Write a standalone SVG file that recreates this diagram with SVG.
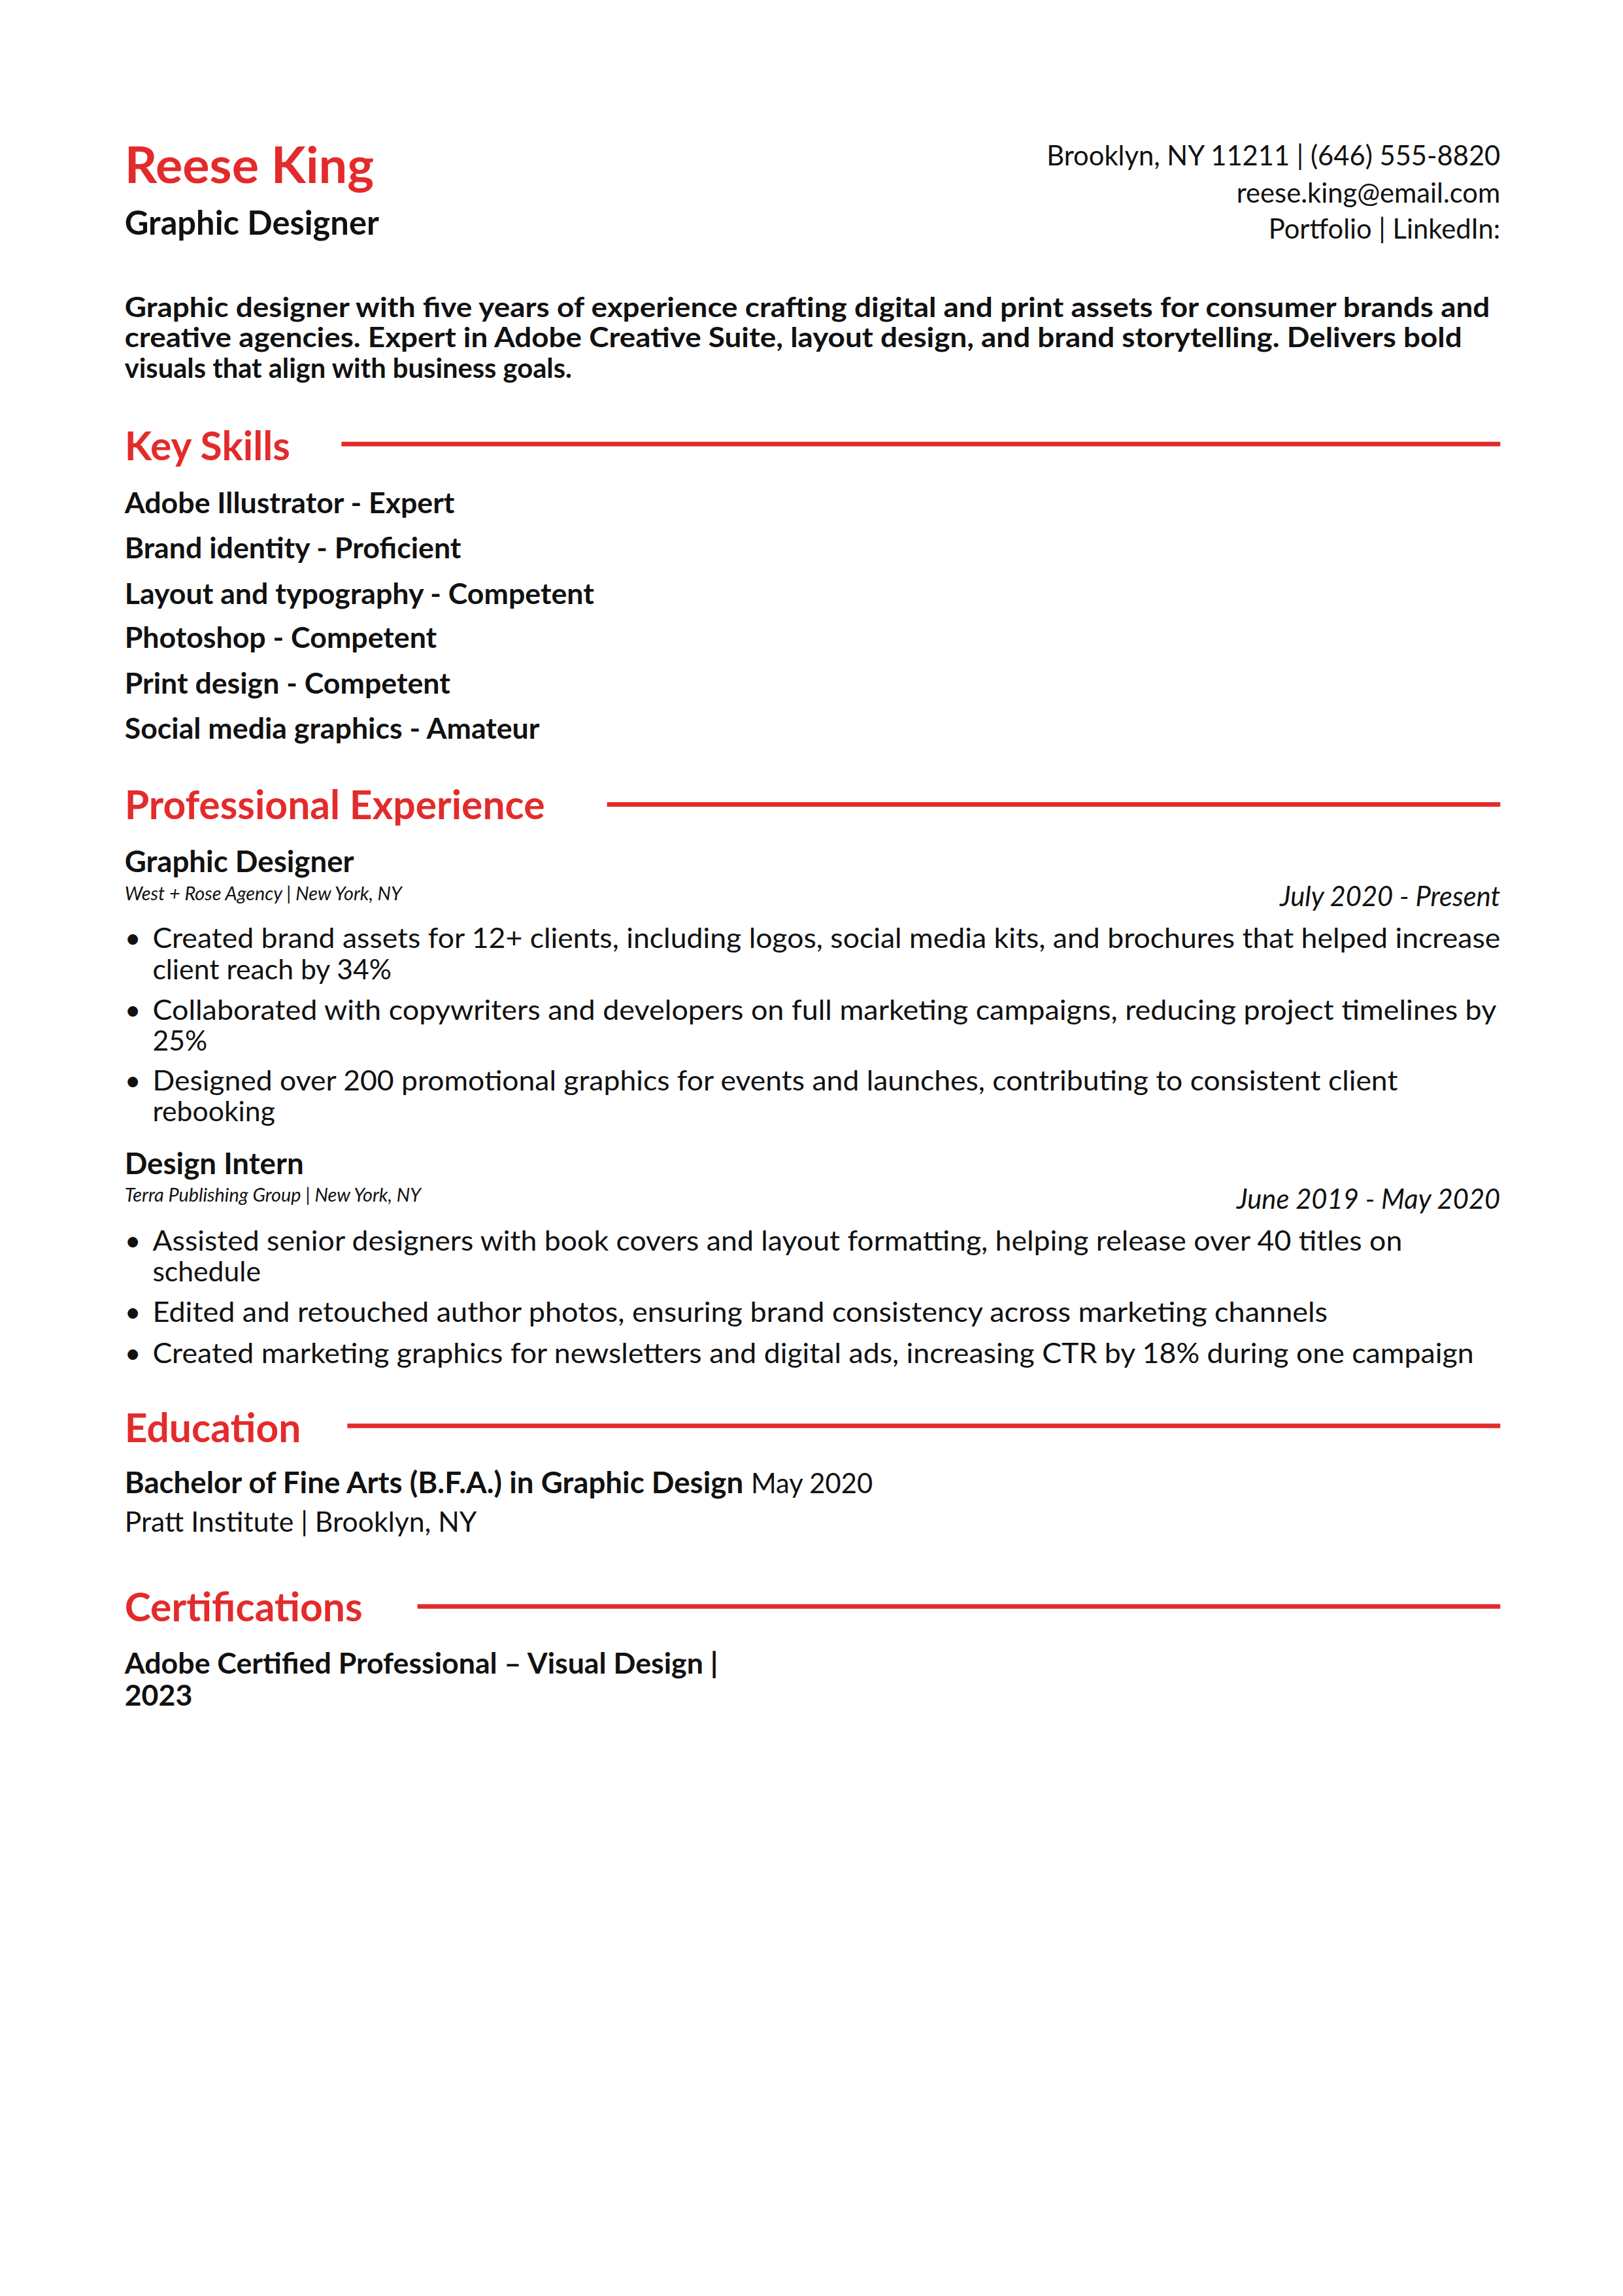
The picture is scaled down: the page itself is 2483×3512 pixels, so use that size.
<svg xmlns="http://www.w3.org/2000/svg" width="2483" height="3512" viewBox="0 0 2483 3512">
<style>
text{font-family:Lato,"Open Sans","Liberation Sans",sans-serif;fill:#111}
.red{fill:#e32b2b;font-weight:700}
.h{font-size:61px}
.b{font-weight:700}
.l{font-size:43px;font-weight:400}
.sk{font-size:45px;font-weight:700}
.it{font-style:italic}
.r{text-anchor:end}
.rule{stroke:#e32b2b;stroke-width:7}
</style>
<rect width="2483" height="3512" fill="#fff"/>
<g transform="scale(0.9932)">
<g id="header">
<text x="192" y="282" class="red" font-size="78">Reese King</text>
<text x="192" y="361" class="b" font-size="51">Graphic Designer</text>
<text x="2311" y="255" class="r" font-size="42">Brooklyn, NY 11211 | (646) 555-8820</text>
<text x="2311" y="312" class="r" font-size="42">reese.king@email.com</text>
<text x="2311" y="368" class="r" font-size="42">Portfolio | LinkedIn:</text>
</g>
<g id="summary">
<text x="192" y="488" class="b" font-size="42" textLength="2103" lengthAdjust="spacingAndGlyphs">Graphic designer with five years of experience crafting digital and print assets for consumer brands and</text>
<text x="192" y="535" class="b" font-size="42" textLength="2060" lengthAdjust="spacingAndGlyphs">creative agencies. Expert in Adobe Creative Suite, layout design, and brand storytelling. Delivers bold</text>
<text x="192" y="582" class="b" font-size="42">visuals that align with business goals.</text>
</g>
<g id="rules">
<line class="rule" x1="526" y1="684" x2="2311" y2="684"/>
<line class="rule" x1="935" y1="1239" x2="2311" y2="1239"/>
<line class="rule" x1="535" y1="2196" x2="2311" y2="2196"/>
<line class="rule" x1="643" y1="2474" x2="2311" y2="2474"/>
</g>
<g id="skills">
<text x="192" y="709" class="red h">Key Skills</text>
<text x="192" y="790" class="sk">Adobe Illustrator - Expert</text>
<text x="192" y="860" class="sk">Brand identity - Proficient</text>
<text x="192" y="930" class="sk">Layout and typography - Competent</text>
<text x="192" y="998" class="sk">Photoshop - Competent</text>
<text x="192" y="1068" class="sk">Print design - Competent</text>
<text x="192" y="1138" class="sk">Social media graphics - Amateur</text>
</g>
<g id="experience">
<text x="192" y="1262" class="red h">Professional Experience</text>
<text x="192" y="1343" class="b" font-size="46">Graphic Designer</text>
<text x="192" y="1386" class="it" font-size="29">West + Rose Agency | New York, NY</text>
<text x="2311" y="1395" class="it r" font-size="42">July 2020 - Present</text>
<text x="192" y="1460" class="l">•</text>
<text x="235" y="1460" class="l" textLength="2076" lengthAdjust="spacingAndGlyphs">Created brand assets for 12+ clients, including logos, social media kits, and brochures that helped increase</text>
<text x="235" y="1508" class="l">client reach by 34%</text>
<text x="192" y="1571" class="l">•</text>
<text x="235" y="1571" class="l" textLength="2070" lengthAdjust="spacingAndGlyphs">Collaborated with copywriters and developers on full marketing campaigns, reducing project timelines by</text>
<text x="235" y="1618" class="l">25%</text>
<text x="192" y="1679" class="l">•</text>
<text x="235" y="1679" class="l" textLength="1918" lengthAdjust="spacingAndGlyphs">Designed over 200 promotional graphics for events and launches, contributing to consistent client</text>
<text x="235" y="1727" class="l">rebooking</text>
<text x="192" y="1808" class="b" font-size="46">Design Intern</text>
<text x="192" y="1851" class="it" font-size="29">Terra Publishing Group | New York, NY</text>
<text x="2311" y="1862" class="it r" font-size="42">June 2019 - May 2020</text>
<text x="192" y="1926" class="l">•</text>
<text x="235" y="1926" class="l" textLength="1925" lengthAdjust="spacingAndGlyphs">Assisted senior designers with book covers and layout formatting, helping release over 40 titles on</text>
<text x="235" y="1973" class="l">schedule</text>
<text x="192" y="2036" class="l">•</text>
<text x="235" y="2036" class="l" textLength="1810" lengthAdjust="spacingAndGlyphs">Edited and retouched author photos, ensuring brand consistency across marketing channels</text>
<text x="192" y="2099" class="l">•</text>
<text x="235" y="2099" class="l" textLength="2035" lengthAdjust="spacingAndGlyphs">Created marketing graphics for newsletters and digital ads, increasing CTR by 18% during one campaign</text>
</g>
<g id="education">
<text x="192" y="2221" class="red h">Education</text>
<text x="192" y="2300" font-size="46"><tspan font-weight="700">Bachelor of Fine Arts (B.F.A.) in Graphic Design</tspan> <tspan font-size="42">May 2020</tspan></text>
<text x="192" y="2359" font-size="43">Pratt Institute | Brooklyn, NY</text>
</g>
<g id="certifications">
<text x="192" y="2578" class="b" font-size="45">Adobe Certified Professional – Visual Design |</text>
<text x="192" y="2627" class="b" font-size="45">2023</text>
<text x="192" y="2497" class="red h">Certifications</text>
</g>
</g>
</svg>
